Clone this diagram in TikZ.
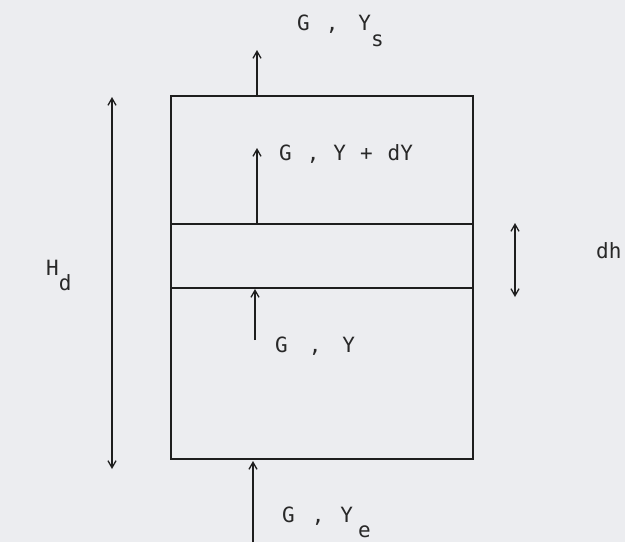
\documentclass[tikz,border=0pt]{standalone}
\usepackage{fontspec}
\setmonofont{DejaVu Sans Mono}
\usetikzlibrary{arrows.meta}
\definecolor{paper}{RGB}{236,237,240}
\definecolor{ink}{RGB}{30,30,30}
\definecolor{txt}{RGB}{40,40,40}
\tikzset{
  wall/.style={draw=ink, line width=1.6pt},
  barb/.tip={Straight Barb[length=7pt,width=8pt,line width=1.3pt]},
  flow/.style={draw=ink, line width=1.4pt, -barb},
  dim/.style={draw=ink, line width=1.4pt, barb-barb},
  lbl/.style={text=txt, font=\ttfamily\fontsize{21}{21}\selectfont, inner sep=0pt, anchor=base west},
}
\newcommand{\gp}[1]{\hspace{#1pt}}
\newcommand{\lowr}[2]{\raisebox{-#1pt}{#2}}
\begin{document}
\begin{tikzpicture}[x=1pt,y=-1pt]
  \fill[paper] (0,0) rectangle (625,542);
  \useasboundingbox (0,0) rectangle (625,542);
  % box
  \coordinate (tl) at (171,96);
  \coordinate (br) at (473,459);
  \draw[wall] (tl) rectangle (br);
  \coordinate (m1l) at (171,224); \coordinate (m1r) at (473,224);
  \coordinate (m2l) at (171,288); \coordinate (m2r) at (473,288);
  \draw[wall] (m1l) -- (m1r);
  \draw[wall] (m2l) -- (m2r);
  % flow arrows
  \coordinate (a1s) at (257,96);  \coordinate (a1e) at (257,50);
  \coordinate (a2s) at (257,224); \coordinate (a2e) at (257,148);
  \coordinate (a3s) at (255,340); \coordinate (a3e) at (255,289);
  \coordinate (a4s) at (253,542); \coordinate (a4e) at (253,461);
  \draw[flow] (a1s) -- (a1e);
  \draw[flow] (a2s) -- (a2e);
  \draw[flow] (a3s) -- (a3e);
  \draw[flow] (a4s) -- (a4e);
  % dimensions
  \coordinate (hdt) at (112,97); \coordinate (hdb) at (112,469);
  \draw[dim] (hdt) -- (hdb);
  \coordinate (dht) at (515,223); \coordinate (dhb) at (515,297);
  \draw[dim] (dht) -- (dhb);
  % labels
  \node[lbl] (ls) at (297,30) {G\gp{16},\gp{20}Y\lowr{16}{s}};
  \node[lbl] (ldy) at (279,160) {G\gp{15},\gp{14}Y\gp{14}+\gp{15}dY};
  \node[lbl] (ly) at (275,352) {G\gp{21},\gp{21}Y};
  \node[lbl] (le) at (282,522) {G\gp{17},\gp{16}Y\gp{5}\lowr{15}{e}};
  \node[lbl] (lhd) at (46,275) {H\lowr{15}{d}};
  \node[lbl] (ldh) at (596,258) {dh};
\end{tikzpicture}
\end{document}
